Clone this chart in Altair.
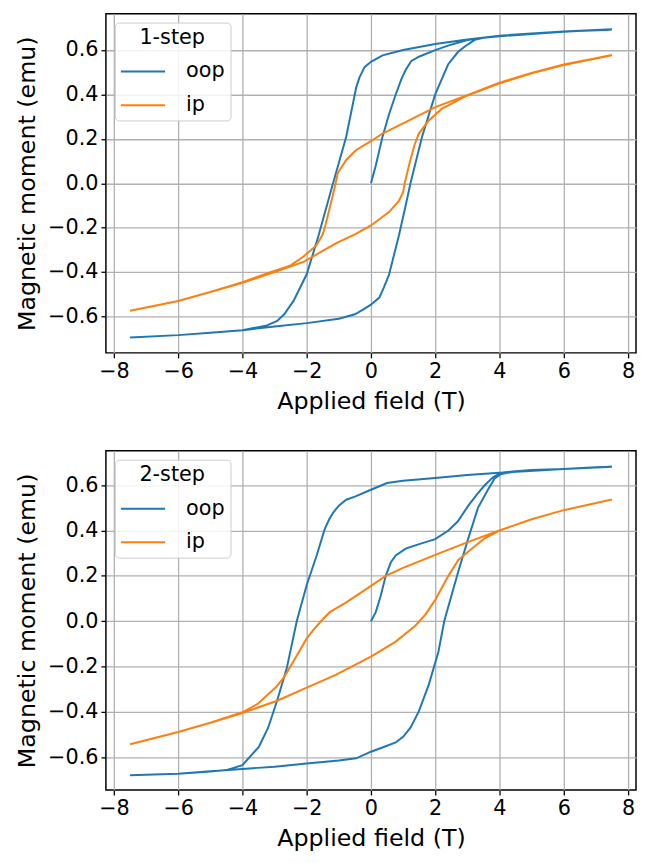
import altair as alt
import pandas as pd

# ---------------- data ----------------
# 1-step sample, out-of-plane (virgin -> descending -> ascending)
s1_oop_field = [0, 0.15, 0.36, 0.56, 0.77, 0.95, 1.08, 1.25, 1.49, 2.0, 2.4, 3.0, 3.5, 4.0, 5.0, 6.0, 7.0, 7.5,
                6.0, 5.0, 4.0, 3.0, 2.0, 1.0, 0.36, 0.0, -0.2, -0.36, -0.46, -0.77, -1.18, -1.64, -2.0, -2.41, -2.7, -2.92, -3.23, -4.0, -5.0, -6.0, -7.5,
                -6.0, -5.0, -4.0, -3.0, -2.0, -1.0, -0.5, -0.26, 0.0, 0.26, 0.4, 0.56, 0.87, 1.08, 1.23, 1.59, 2.0, 2.4, 2.7, 2.92, 3.23, 3.5, 4.0, 5.0, 6.0, 7.5]
s1_oop_moment = [0.0, 0.08, 0.21, 0.31, 0.40, 0.47, 0.51, 0.55, 0.57, 0.60, 0.62, 0.645, 0.655, 0.662, 0.672, 0.682, 0.690, 0.692,
                 0.684, 0.675, 0.665, 0.648, 0.627, 0.600, 0.576, 0.547, 0.523, 0.476, 0.431, 0.21, 0.0, -0.24, -0.41, -0.53, -0.59, -0.62, -0.64, -0.662, -0.673, -0.684, -0.695,
                 -0.684, -0.673, -0.662, -0.645, -0.63, -0.61, -0.59, -0.57, -0.547, -0.515, -0.47, -0.413, -0.235, -0.10, 0.0, 0.21, 0.40, 0.535, 0.59, 0.616, 0.646, 0.655, 0.665, 0.675, 0.684, 0.694]

# 1-step sample, in-plane (descending -> ascending)
s1_ip_field = [7.5, 7.0, 6.0, 5.0, 4.0, 3.0, 2.0, 1.59, 1.0, 0.36, 0.0, -0.46, -0.77, -1.03, -1.1, -1.18, -1.3, -1.42, -1.5, -1.7, -2.1, -2.5, -3.13, -4.0, -5.0, -6.0, -7.5,
               -6.0, -5.0, -4.0, -3.0, -2.1, -1.08, -0.5, 0.0, 0.56, 0.87, 1.0, 1.05, 1.2, 1.35, 1.49, 1.8, 2.2, 2.92, 4.0, 5.0, 6.0, 7.5]
s1_ip_moment = [0.578, 0.563, 0.535, 0.497, 0.453, 0.397, 0.343, 0.313, 0.27, 0.224, 0.19, 0.15, 0.105, 0.047, 0.0, -0.05, -0.12, -0.19, -0.23, -0.28, -0.33, -0.37, -0.40, -0.446, -0.49, -0.53, -0.574,
                -0.53, -0.49, -0.448, -0.40, -0.354, -0.27, -0.23, -0.19, -0.13, -0.08, -0.04, 0.0, 0.09, 0.17, 0.224, 0.283, 0.335, 0.39, 0.45, 0.495, 0.533, 0.576]

# 2-step sample, out-of-plane
s2_oop_field = [0, 0.15, 0.3, 0.46, 0.62, 0.77, 1.08, 1.5, 2.0, 2.41, 2.7, 3.03, 3.3, 3.54, 3.8, 4.05, 4.5, 5.0, 6.0, 7.0, 7.5,
                6.0, 4.0, 3.0, 2.0, 1.0, 0.5, 0.0, -0.5, -0.77, -1.0, -1.18, -1.3, -1.44, -1.69, -2.0, -2.31, -2.62, -2.92, -3.2, -3.49, -4.0, -4.5, -5.0, -6.0, -7.5,
                -6.0, -5.0, -4.0, -3.0, -2.0, -1.0, -0.46, 0.0, 0.4, 0.77, 1.0, 1.23, 1.49, 1.8, 2.1, 2.28, 2.52, 2.72, 3.03, 3.33, 3.64, 3.85, 4.05, 4.5, 5.0, 6.0, 7.5]
s2_oop_moment = [0.0, 0.04, 0.11, 0.20, 0.26, 0.29, 0.32, 0.34, 0.362, 0.40, 0.44, 0.51, 0.56, 0.60, 0.635, 0.655, 0.662, 0.667, 0.672, 0.679, 0.682,
                 0.672, 0.655, 0.645, 0.632, 0.62, 0.61, 0.58, 0.55, 0.536, 0.51, 0.478, 0.45, 0.406, 0.29, 0.16, 0.0, -0.207, -0.35, -0.47, -0.555, -0.635, -0.657, -0.663, -0.673, -0.68,
                 -0.673, -0.662, -0.652, -0.642, -0.628, -0.615, -0.605, -0.576, -0.555, -0.535, -0.51, -0.47, -0.398, -0.28, -0.135, 0.0, 0.12, 0.22, 0.366, 0.50, 0.58, 0.63, 0.65, 0.66, 0.665, 0.672, 0.682]

# 2-step sample, in-plane
s2_ip_field = [7.5, 6.0, 5.0, 4.0, 3.03, 2.0, 1.0, 0.46, 0.0, -0.77, -1.28, -1.49, -1.74, -2.0, -2.41, -2.72, -2.97, -3.54, -4.0, -5.0, -6.0, -7.5,
               -6.0, -5.0, -4.0, -2.92, -2.0, -1.08, 0.0, 0.77, 1.38, 1.7, 2.0, 2.41, 2.72, 3.03, 3.54, 4.0, 5.0, 6.0, 7.5]
s2_ip_moment = [0.537, 0.49, 0.45, 0.40, 0.35, 0.293, 0.235, 0.20, 0.156, 0.083, 0.04, 0.01, -0.03, -0.076, -0.177, -0.25, -0.293, -0.366, -0.402, -0.448, -0.489, -0.543,
                -0.489, -0.448, -0.405, -0.351, -0.293, -0.236, -0.156, -0.09, -0.02, 0.03, 0.094, 0.20, 0.27, 0.308, 0.366, 0.40, 0.45, 0.49, 0.537]

series_names = ["oop", "ip"]
series_colors = ["#1f77b4", "#ff7f0e"]
x_ticks = [-8, -6, -4, -2, 0, 2, 4, 6, 8]
y_ticks = [-0.6, -0.4, -0.2, 0.0, 0.2, 0.4, 0.6]

FONT = "DejaVu Sans"


def frame(oop_f, oop_m, ip_f, ip_m):
    a = pd.DataFrame({"field": oop_f, "moment": oop_m, "series": "oop"})
    a["i"] = range(len(a))
    b = pd.DataFrame({"field": ip_f, "moment": ip_m, "series": "ip"})
    b["i"] = range(len(b))
    return pd.concat([a, b], ignore_index=True)


def panel(df, legend_title, ydom):
    base = alt.Chart(df).mark_line(strokeWidth=2, clip=True).encode(
        x=alt.X("field:Q",
                scale=alt.Scale(domain=[-8.25, 8.25], nice=False, zero=False),
                axis=alt.Axis(values=x_ticks, title="Applied field (T)",
                              labelExpr="replace(format(datum.value, 'd'), '-', '\u2212')")),
        y=alt.Y("moment:Q",
                scale=alt.Scale(domain=ydom, nice=False, zero=False),
                axis=alt.Axis(values=y_ticks, title="Magnetic moment (emu)",
                              labelExpr="replace(format(datum.value, '.1f'), '-', '\u2212')")),
        color=alt.Color("series:N",
                        scale=alt.Scale(domain=series_names, range=series_colors),
                        legend=alt.Legend(title=legend_title, orient="top-left", offset=9,
                                          fillColor="rgba(255,255,255,0.85)", strokeColor="#cccccc",
                                          cornerRadius=4, padding=5,
                                          titleFontSize=21, labelFontSize=21,
                                          titleFont=FONT, labelFont=FONT,
                                          titleFontWeight="normal", titleColor="black", labelColor="black",
                                          titleAnchor="middle", titlePadding=0,
                                          symbolType="stroke", symbolSize=2000, symbolStrokeWidth=2,
                                          rowPadding=-6, labelOffset=20)),
        order="i:Q",
    )
    return alt.layer(
        base.transform_filter("datum.series == 'oop'"),
        base.transform_filter("datum.series == 'ip'"),
    ).properties(width=536, height=343)


top = panel(frame(s1_oop_field, s1_oop_moment, s1_ip_field, s1_ip_moment), "1-step", [-0.764, 0.764])
bottom = panel(frame(s2_oop_field, s2_oop_moment, s2_ip_field, s2_ip_moment), "2-step", [-0.745, 0.752])

chart = alt.vconcat(top, bottom, spacing=36).resolve_scale(color="independent").properties(
    padding={"left": 7, "top": 0, "right": 0, "bottom": 0}
).configure_view(
    stroke="black", strokeWidth=1.5
).configure_axis(
    labelFont=FONT, titleFont=FONT, labelFontSize=21, titleFontSize=24,
    titleFontWeight="normal", labelColor="black", titleColor="black",
    grid=True, gridColor="#b0b0b0", gridWidth=1.3,
    domain=False, tickColor="black", tickSize=5, tickWidth=1.3,
    labelPadding=3, titlePadding=8,
)

chart.save("out.html", embed_options={"renderer": "svg", "actions": False})
